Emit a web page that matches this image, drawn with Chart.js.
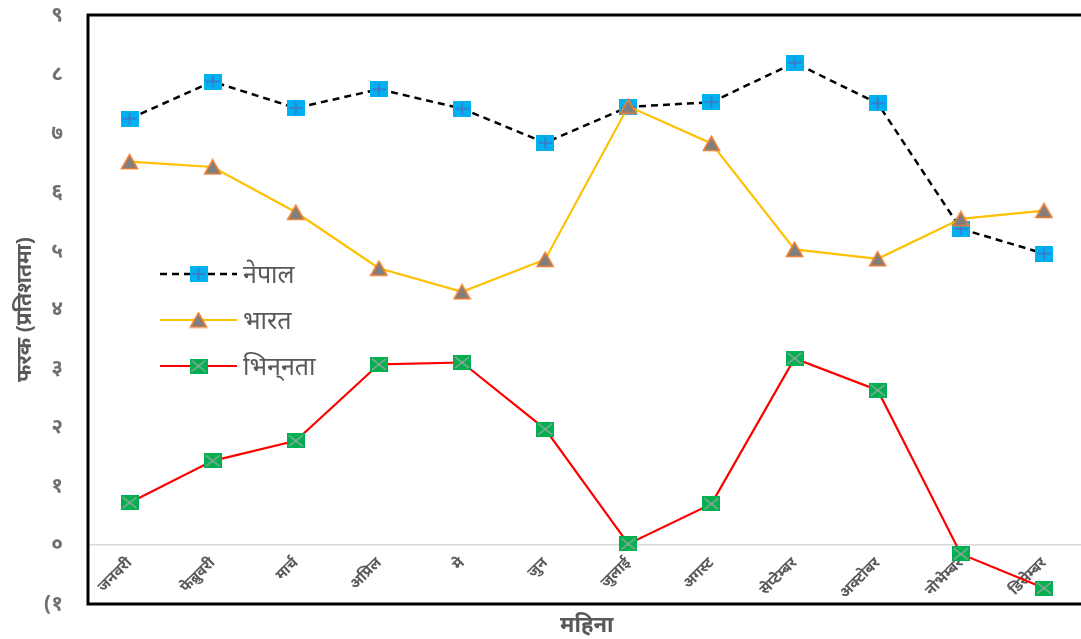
<!DOCTYPE html>
<html>
<head>
<meta charset="utf-8">
<script src="https://cdn.jsdelivr.net/npm/chart.js@4.4.1/dist/chart.umd.min.js"></script>
<style>
  html, body { margin: 0; padding: 0; background: #fff; overflow: hidden; }
  #wrap { width: 1092px; height: 639px; position: relative; }
</style>
</head>
<body>
<div id="wrap"><canvas id="chart"></canvas></div>
<script>
const months = ['जनवरी', 'फेब्रुवरी', 'मार्च', 'अप्रिल', 'मे', 'जुन', 'जुलाई', 'अगस्ट', 'सेप्टेम्बर', 'अक्टोबर', 'नोभेम्बर', 'डिसेम्बर'];
const nepal = [7.24, 7.87, 7.42, 7.74, 7.41, 6.83, 7.44, 7.52, 8.19, 7.50, 5.37, 4.95];
const bharat = [6.51, 6.42, 5.65, 4.70, 4.30, 4.85, 7.45, 6.82, 5.02, 4.86, 5.54, 5.68];
const bhinnata = [0.72, 1.43, 1.77, 3.07, 3.10, 1.97, 0.02, 0.70, 3.17, 2.63, -0.15, -0.73];
const yTickLabels = ['(१', '०', '१', '२', '३', '४', '५', '६', '७', '८', '९'];

const devFont = "'Noto Sans', 'Noto Sans Devanagari', 'Lohit Devanagari', 'FreeSans', sans-serif";
const grey = '#595959';

function squarePlus() {
    let c = document.createElement('canvas');
    c.width = 18; c.height = 16;
    let g = c.getContext('2d');
    g.fillStyle = '#00b0f0';
    g.fillRect(0, 0, 18, 16);
    g.strokeStyle = '#4472c4';
    g.lineWidth = 1.5;
    g.beginPath();
    g.moveTo(9, 2); g.lineTo(9, 14);
    g.moveTo(2, 8); g.lineTo(16, 8);
    g.stroke();
    return c;
}
function triangle() {
    let c = document.createElement('canvas');
    c.width = 19; c.height = 17;
    let g = c.getContext('2d');
    g.fillStyle = '#7f7f7f';
    g.strokeStyle = '#ed7d31';
    g.lineWidth = 1.6;
    g.beginPath();
    g.moveTo(9.5, 1.5); g.lineTo(17.5, 15.5); g.lineTo(1.5, 15.5);
    g.closePath();
    g.fill(); g.stroke();
    return c;
}
function squareX() {
    let c = document.createElement('canvas');
    c.width = 18; c.height = 15;
    let g = c.getContext('2d');
    g.fillStyle = '#00b050';
    g.fillRect(0, 0, 18, 15);
    g.strokeStyle = '#a5a5a5';
    g.lineWidth = 1.4;
    g.beginPath();
    g.moveTo(2, 2); g.lineTo(16, 13);
    g.moveTo(16, 2); g.lineTo(2, 13);
    g.stroke();
    return c;
}

// legend drawn inside the plot, Excel style
const insideLegend = {
    id: 'insideLegend',
    afterDatasetsDraw(chart) {
        let ctx = chart.ctx;
        let a = chart.chartArea;
        ctx.save();
        chart.data.datasets.forEach((ds, k) => {
            let y = 274 + k * 46;
            let x0 = a.left + 72, x1 = a.left + 149;
            ctx.strokeStyle = ds.borderColor;
            ctx.lineWidth = ds.borderWidth;
            ctx.setLineDash(ds.borderDash || []);
            ctx.beginPath();
            ctx.moveTo(x0, y); ctx.lineTo(x1, y);
            ctx.stroke();
            ctx.setLineDash([]);
            let img = ds.pointStyle;
            ctx.drawImage(img, (x0 + x1) / 2 - img.width / 2, y - img.height / 2);
            ctx.fillStyle = grey;
            ctx.font = '25px ' + devFont;
            ctx.textBaseline = 'middle';
            ctx.textAlign = 'left';
            ctx.fillText(ds.label, x1 + 6, y + 2);
        });
        ctx.restore();
    }
};

const frame = {
    id: 'frame',
    afterDraw(chart) {
        let ctx = chart.ctx;
        let a = chart.chartArea;
        ctx.save();
        ctx.strokeStyle = '#000';
        ctx.lineWidth = 3;
        ctx.strokeRect(a.left, a.top, a.right - a.left, a.bottom - a.top);
        ctx.restore();
    }
};

new Chart(document.getElementById('chart'), {
    type: 'line',
    data: {
        labels: months,
        datasets: [
            {
                label: 'नेपाल',
                data: nepal,
                borderColor: '#000000',
                borderWidth: 2.5,
                borderDash: [7, 5],
                pointStyle: squarePlus(),
                tension: 0,
                order: 1,
            },
            {
                label: 'भारत',
                data: bharat,
                borderColor: '#ffc000',
                borderWidth: 2.2,
                pointStyle: triangle(),
                tension: 0,
                order: 0,
            },
            {
                label: 'भिन्\u200Cनता',
                data: bhinnata,
                borderColor: '#ff0000',
                borderWidth: 2.2,
                pointStyle: squareX(),
                tension: 0,
                order: 2,
            },
        ],
    },
    options: {
        responsive: true,
        maintainAspectRatio: false,
        animation: false,
        layout: { padding: { top: 15, right: 4, left: 0, bottom: 0 } },
        plugins: {
            legend: { display: false },
            tooltip: { enabled: false },
        },
        scales: {
            x: {
                type: 'category',
                position: 'bottom',
                offset: true,
                grid: { display: false },
                border: { display: false },
                ticks: { display: false },
                title: {
                    display: true,
                    text: 'महिना',
                    color: grey,
                    font: { family: devFont, size: 22, weight: 'bold' },
                    padding: { top: 0, bottom: 0 },
                },
                afterFit: (s) => { s.height = 35; },
            },
            x2: {
                type: 'category',
                labels: months,
                position: { y: 0 },
                offset: true,
                grid: { display: false },
                border: { display: true, color: '#d9d9d9', width: 1.5 },
                ticks: {
                    color: grey,
                    font: { family: devFont, size: 15, weight: 'bold' },
                    minRotation: 45,
                    maxRotation: 45,
                    autoSkip: false,
                    padding: 1,
                },
                afterFit: (s) => { s.paddingLeft = 0; s.paddingRight = 0; },
            },
            y: {
                min: -1,
                max: 9,
                grid: { display: false },
                border: { display: false },
                ticks: {
                    stepSize: 1,
                    color: '#707070',
                    padding: 17,
                    font: { family: devFont, size: 21, weight: 'bold' },
                    callback: (v) => yTickLabels[v + 1],
                },
                title: {
                    display: true,
                    text: 'फरक (प्रतिशतमा)',
                    color: grey,
                    font: { family: devFont, size: 21, weight: 'bold' },
                    padding: { top: 12, bottom: 0 },
                },
                afterFit: (s) => { s.width = 88; s.paddingTop = 0; s.paddingBottom = 0; },
            },
        },
    },
    plugins: [insideLegend, frame],
});
</script>
</body>
</html>
